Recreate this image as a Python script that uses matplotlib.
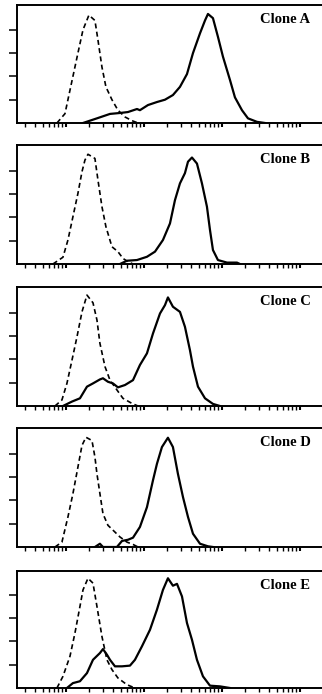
import numpy as np
import matplotlib
matplotlib.use("Agg")
import matplotlib.pyplot as plt
from matplotlib.ticker import LogLocator, NullFormatter

# histogram traces: x = log10(fluorescence), y = relative cell count
clones = ["Clone A", "Clone B", "Clone C", "Clone D", "Clone E"]

ctrl_logx = [
    [0.884, 0.987, 1.025, 1.089, 1.153, 1.218, 1.294, 1.371, 1.410, 1.461, 1.512, 1.589, 1.666, 1.756, 1.846, 1.923],
    [0.833, 0.961, 1.025, 1.089, 1.153, 1.205, 1.243, 1.282, 1.371, 1.410, 1.461, 1.512, 1.589, 1.666, 1.730, 1.794, 1.859],
    [0.859, 0.948, 1.012, 1.077, 1.141, 1.205, 1.269, 1.346, 1.397, 1.435, 1.500, 1.564, 1.653, 1.730, 1.846, 1.923],
    [0.859, 0.948, 1.025, 1.089, 1.153, 1.205, 1.256, 1.333, 1.371, 1.397, 1.435, 1.474, 1.538, 1.628, 1.692, 1.782, 1.859, 1.923],
    [0.884, 0.961, 1.051, 1.115, 1.179, 1.218, 1.282, 1.346, 1.397, 1.461, 1.525, 1.589, 1.666, 1.782, 1.884],
]
ctrl_count = [
    [0, 0.4, 1.0, 2.0, 3.0, 4.0, 4.63, 4.4, 3.56, 2.4, 1.55, 1.0, 0.55, 0.26, 0.1, 0],
    [0, 0.29, 1.03, 2.03, 3.03, 3.96, 4.46, 4.71, 4.53, 3.6, 2.46, 1.6, 0.74, 0.53, 0.24, 0.1, 0],
    [0, 0.26, 0.97, 1.97, 2.97, 4.04, 4.76, 4.43, 3.69, 2.69, 1.69, 1.11, 0.69, 0.33, 0.11, 0],
    [0, 0.21, 1.29, 2.29, 3.43, 4.36, 4.71, 4.57, 3.86, 3.14, 2.29, 1.43, 0.93, 0.64, 0.43, 0.21, 0.11, 0],
    [0, 0.5, 1.36, 2.36, 3.5, 4.21, 4.71, 4.5, 3.5, 2.21, 1.21, 0.79, 0.43, 0.14, 0],
]

clone_logx = [
    [1.218, 1.397, 1.564, 1.692, 1.794, 1.910, 1.948, 2.051, 2.166, 2.269, 2.371, 2.461, 2.551,
     2.628, 2.718, 2.782, 2.820, 2.884, 2.948, 3.012, 3.102, 3.166, 3.256, 3.333, 3.448, 3.551],
    [1.692, 1.782, 1.910, 2.038, 2.141, 2.243, 2.333, 2.397, 2.461, 2.525, 2.564, 2.615, 2.679,
     2.743, 2.807, 2.846, 2.884, 2.948, 3.064, 3.192, 3.230],
    [0.961, 1.077, 1.179, 1.269, 1.346, 1.435, 1.474, 1.538, 1.602, 1.666, 1.756, 1.859, 1.948, 2.038,
     2.115, 2.205, 2.269, 2.307, 2.371, 2.461, 2.525, 2.589, 2.628, 2.692, 2.782, 2.884, 2.974],
    [1.371, 1.435, 1.474, 1.653, 1.718, 1.794, 1.859, 1.948, 2.038, 2.115, 2.166, 2.230, 2.307,
     2.371, 2.435, 2.500, 2.564, 2.628, 2.718, 2.820, 2.884],
    [1.012, 1.089, 1.179, 1.269, 1.346, 1.435, 1.474, 1.525, 1.564, 1.628, 1.718, 1.820, 1.884, 1.974,
     2.077, 2.166, 2.243, 2.307, 2.371, 2.423, 2.487, 2.551, 2.615, 2.679, 2.756, 2.846, 2.974, 3.102],
]
clone_count = [
    [0, 0.2, 0.39, 0.43, 0.47, 0.6, 0.55, 0.77, 0.9, 1.0, 1.2, 1.55, 2.1,
     3.0, 3.85, 4.4, 4.68, 4.5, 3.7, 2.85, 1.85, 1.1, 0.55, 0.2, 0.05, 0],
    [0, 0.14, 0.17, 0.31, 0.53, 1.03, 1.74, 2.74, 3.46, 3.9, 4.39, 4.57, 4.31,
     3.46, 2.46, 1.46, 0.6, 0.17, 0.06, 0.06, 0],
    [0, 0.19, 0.33, 0.83, 0.97, 1.14, 1.19, 1.04, 0.97, 0.8, 0.9, 1.11, 1.76, 2.26,
     3.11, 3.97, 4.33, 4.66, 4.26, 4.04, 3.4, 2.4, 1.69, 0.83, 0.33, 0.09, 0],
    [0, 0.14, 0, 0, 0.26, 0.31, 0.4, 0.86, 1.71, 2.86, 3.57, 4.29, 4.69,
     4.29, 3.14, 2.14, 1.29, 0.57, 0.14, 0.03, 0],
    [0, 0.21, 0.29, 0.64, 1.21, 1.5, 1.67, 1.43, 1.21, 0.93, 0.93, 0.96, 1.21, 1.79,
     2.5, 3.36, 4.21, 4.71, 4.39, 4.47, 3.93, 2.79, 2.07, 1.21, 0.5, 0.1, 0.07, 0],
]

# panel frames in pixels (top, bottom) of the 322x694 scan
W, H = 322, 694
frames = [(5, 123), (145, 264), (287, 406), (428, 547), (571, 688)]
left_px = 17
unit_px = 23.3  # pixels per y tick step

fig = plt.figure(figsize=(W / 100, H / 100), dpi=100)

for i, name in enumerate(clones):
    top, bot = frames[i]
    ax = fig.add_axes([left_px / W, 1 - bot / H, 1 - left_px / W, (bot - top) / H])
    ax.plot(10 ** np.array(ctrl_logx[i]), ctrl_count[i], color="black", lw=1.2,
            ls=(0, (3, 2)), solid_joinstyle="round", dash_capstyle="butt")
    ax.plot(10 ** np.array(clone_logx[i]), clone_count[i], color="black", lw=1.6,
            solid_joinstyle="round")

    ax.set_xscale("log")
    ax.set_xlim(10 ** 0.372, 10 ** 4.282)
    ax.set_ylim(0, (bot - top) / unit_px)
    ax.xaxis.set_major_locator(LogLocator(base=10))
    ax.xaxis.set_minor_locator(LogLocator(base=10, subs=np.arange(2, 10)))
    ax.xaxis.set_major_formatter(NullFormatter())
    ax.xaxis.set_minor_formatter(NullFormatter())
    ax.set_yticks([1, 2, 3, 4])
    ax.set_yticklabels([])
    ax.tick_params(axis="y", direction="out", length=5.8, width=1.1, color="black")
    ax.tick_params(axis="x", which="major", direction="out", length=3.2, width=1.5)
    ax.tick_params(axis="x", which="minor", direction="out", length=3.0, width=1.0)

    ax.spines["right"].set_visible(False)
    for s in ("left", "top", "bottom"):
        ax.spines[s].set_linewidth(1.4)

    ax.text(0.88, 0.88, name, transform=ax.transAxes, ha="center", va="center",
            fontsize=10.5, family="Liberation Serif", fontweight="bold")

fig.savefig("out.png", dpi=100)
